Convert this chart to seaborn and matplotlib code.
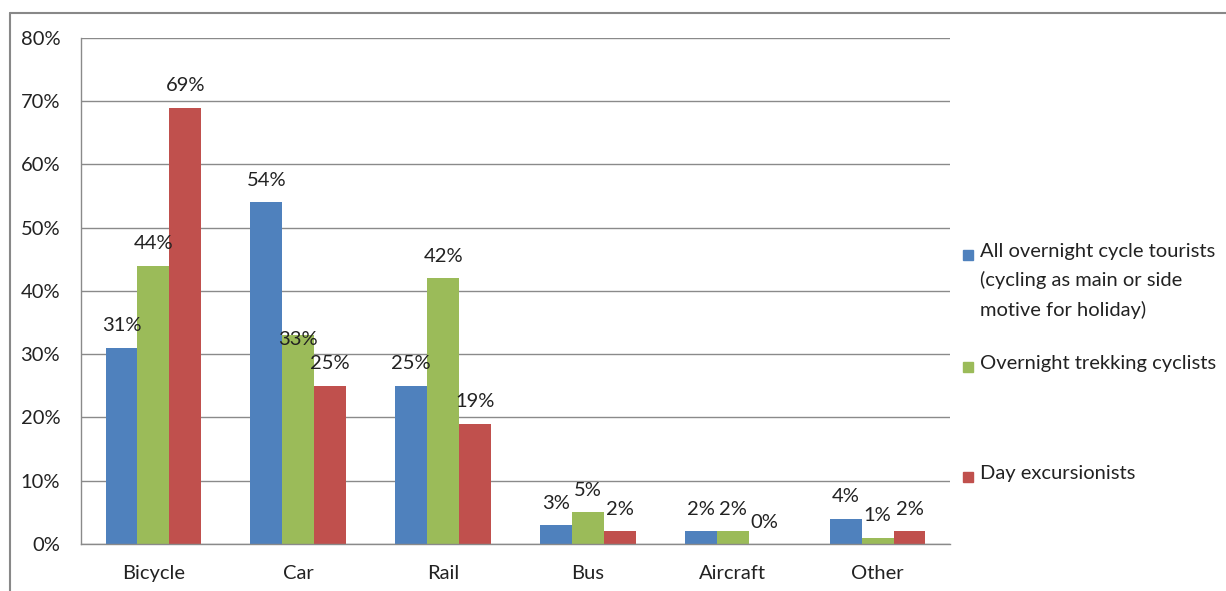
import pandas as pd
import matplotlib.pyplot as plt
import seaborn as sns
from matplotlib.patches import Rectangle
from matplotlib.lines import Line2D
from matplotlib.ticker import PercentFormatter

# Chart data
modes = ['Bicycle', 'Car', 'Rail', 'Bus', 'Aircraft', 'Other']
series_names = ['All overnight cycle tourists\n(cycling as main or side\nmotive for holiday)',
                'Overnight trekking cyclists',
                'Day excursionists']
all_overnight = [31, 54, 25, 3, 2, 4]
trekking = [44, 33, 42, 5, 2, 1]
day_excursion = [69, 25, 19, 2, 0, 2]
y_ticks = [0, 10, 20, 30, 40, 50, 60, 70, 80]

colors = ['#4F81BD', '#9BBB59', '#C0504D']

# Long format table for seaborn
df = pd.DataFrame({
    'Mode': modes * 3,
    'Series': [series_names[0]] * 6 + [series_names[1]] * 6 + [series_names[2]] * 6,
    'Share': all_overnight + trekking + day_excursion,
})

sns.set_style('white')
plt.rcParams['font.family'] = ['Lato', 'DejaVu Sans']
fs = 14.5
txt_color = '#222222'

fig = plt.figure(figsize=(12.26, 5.91), dpi=100)
ax = fig.add_axes([81 / 1226, 1 - 544 / 591, (950 - 81) / 1226, (544 - 38) / 591])

sns.barplot(data=df, x='Mode', y='Share', hue='Series', order=modes,
            hue_order=series_names, palette=colors, width=0.66, gap=0,
            saturation=1, linewidth=0, legend=False, ax=ax)

# Data labels
for i, cont in enumerate(ax.containers):
    for j, bar in enumerate(cont):
        dy = 0 if (i, j) != (1, 1) else -26
        ax.annotate(f'{int(round(bar.get_height()))}%',
                    (bar.get_x() + bar.get_width() / 2, bar.get_height()),
                    xytext=(0, 22 + dy), textcoords='offset pixels',
                    ha='center', va='center', fontsize=fs, color=txt_color)

# Axes styling
ax.set_ylim(0, 80)
ax.set_xlim(-0.5, 5.5)
ax.set_yticks(y_ticks)
ax.yaxis.set_major_formatter(PercentFormatter(decimals=0))
ax.set_xlabel('')
ax.set_ylabel('')
ax.grid(axis='y', color='#8a8a8a', linewidth=1)
ax.set_axisbelow(True)
for side in ['top', 'right']:
    ax.spines[side].set_visible(False)
for side in ['left', 'bottom']:
    ax.spines[side].set_color('#8a8a8a')
    ax.spines[side].set_linewidth(1)

ax.tick_params(axis='y', length=6, color='#8a8a8a', pad=9, labelsize=fs, labelcolor=txt_color)
ax.tick_params(axis='x', which='major', length=0, pad=15, labelsize=fs, labelcolor=txt_color)
ax.set_xticks([x + 0.5 for x in range(-1, 6)], minor=True)
ax.tick_params(axis='x', which='minor', length=7, color='#8a8a8a')

# Legend drawn like the spreadsheet one
legend_tops = [243, 355, 465]
for color, name, top in zip(colors, series_names, legend_tops):
    fig.patches.append(Rectangle((963 / 1226, 1 - (top + 17) / 591), 10 / 1226, 10 / 591,
                                 transform=fig.transFigure, color=color))
    fig.text(980 / 1226, 1 - top / 591, name, ha='left', va='top',
             fontsize=fs, color=txt_color, linespacing=1.75)

# Outer frame (partially cropped)
fig.add_artist(Line2D([10 / 1226, 1], [1 - 13 / 591, 1 - 13 / 591],
                      transform=fig.transFigure, color='#888888', linewidth=1.5))
fig.add_artist(Line2D([10 / 1226, 10 / 1226], [0, 1 - 13 / 591],
                      transform=fig.transFigure, color='#888888', linewidth=1.5))

fig.savefig('out.png', dpi=100)
